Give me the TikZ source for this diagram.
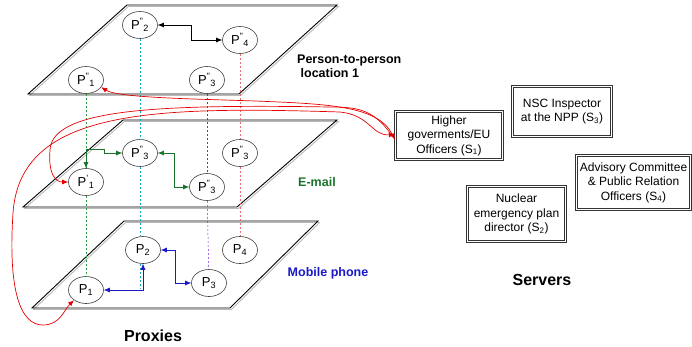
\documentclass[tikz,border=0pt]{standalone}
\usepackage{fontspec}
\setmainfont{Liberation Sans}
\usepackage{xcolor}
\usepackage{tikz}
\usetikzlibrary{shapes.geometric,positioning}
\usetikzlibrary{arrows.meta}
\tikzset{>={Latex[width=5pt,length=6pt]}}
\definecolor{mailgreen}{RGB}{25,115,45}
\definecolor{phoneblue}{RGB}{25,25,200}
\definecolor{colgreen}{RGB}{40,160,60}
\definecolor{colcyan}{RGB}{20,170,200}
\definecolor{colpurple}{RGB}{120,40,220}
\definecolor{colpink}{RGB}{230,110,110}
\tikzstyle{proxy}=[ellipse, draw=black!75, fill=white, line width=0.6pt, minimum width=35pt, minimum height=27pt, inner sep=0pt, font=\fontsize{13}{13}\selectfont]
\tikzstyle{server-box}=[rectangle, align=center, inner sep=1pt, font=\fontsize{12}{14.5}\selectfont]
\tikzstyle{box-frame}=[draw=black!80, line width=0.7pt]
\tikzstyle{layer-label}=[font=\bfseries\fontsize{12.5}{14}\selectfont, inner sep=0pt]
\tikzstyle{group-title}=[font=\bfseries\fontsize{16}{16}\selectfont, inner sep=0pt]
\tikzstyle{column}=[dashed, dash pattern=on 2pt off 2pt, line width=0.5pt]
\tikzstyle{red-link}=[draw=red!90!black, line width=0.7pt, >={Latex[width=5pt,length=6pt]}]
\tikzstyle{plane}=[line width=0.9pt]
\newcommand{\Ppp}[1]{P\textsuperscript{"}\textsubscript{#1}}
\newcommand{\Pp}[1]{P\textsuperscript{'}\textsubscript{#1}}

\begin{document}
\begin{tikzpicture}[x=1pt, y=-1pt, node distance=2.5cm]
	\useasboundingbox (0,0) rectangle (692,346);

	\draw[plane, gray!55, shift={(1.5,1.5)}] (127,5) -- (337,5) -- (239,94) -- (28,94) -- cycle;
	\draw[plane] (127,5) -- (337,5) -- (239,94) -- (28,94) -- cycle;
	\draw[plane, gray!55, shift={(1.5,1.5)}] (123,120) -- (337,120) -- (237,207) -- (23,207) -- cycle;
	\draw[plane] (123,120) -- (337,120) -- (237,207) -- (23,207) -- cycle;
	\draw[plane, gray!55, shift={(1.5,1.5)}] (124,221) -- (318,221) -- (230,308) -- (32,308) -- cycle;
	\draw[plane] (124,221) -- (318,221) -- (230,308) -- (32,308) -- cycle;

	\node[proxy] (top-p2) at (140,25) {\Ppp{2}};
	\node[proxy] (top-p4) at (240,40) {\Ppp{4}};
	\node[proxy] (top-p1) at (86,80) {\Ppp{1}};
	\node[proxy] (top-p3) at (207,80) {\Ppp{3}};

	\node[proxy] (mid-p3c) at (140,153) {\Ppp{3}};
	\node[proxy] (mid-p3r) at (240,153) {\Ppp{3}};
	\node[proxy] (mid-p1) at (86,182) {\Pp{1}};
	\node[proxy] (mid-p3p) at (207,187) {\Ppp{3}};

	\node[proxy] (bot-p2) at (143,250) {P\textsubscript{2}};
	\node[proxy] (bot-p4) at (240,250) {P\textsubscript{4}};
	\node[proxy] (bot-p1) at (86,290) {P\textsubscript{1}};
	\node[proxy] (bot-p3) at (209,283) {P\textsubscript{3}};

	\node[layer-label, anchor=west, align=left] (p2p-label) at (297,66) {Person-to-person\\\ location 1};
	\node[layer-label, text=mailgreen] (mail-label) at (317,182) {E-mail};
	\node[layer-label, text=phoneblue] (phone-label) at (328,273) {Mobile phone};
	\node[group-title] (proxies) at (153,336) {Proxies};

	\node[server-box, minimum width=108pt, minimum height=49pt] (s1) at (449,135.5) {Higher\\goverments/EU\\Officers (S\textsubscript{1})};
	\node[server-box, minimum width=100pt, minimum height=51pt] (s3) at (562,111.5) {NSC Inspector\\at the NPP (S\textsubscript{3})};
	\node[server-box, minimum width=99pt, minimum height=56pt] (s2) at (516.5,214) {Nuclear\\emergency plan\\director (S\textsubscript{2})};
	\node[server-box, minimum width=115pt, minimum height=55pt] (s4) at (633.5,182.5) {Advisory Committee\\\& Public Relation\\Officers (S\textsubscript{4})};
	\foreach \s in {s1,s2,s3,s4} {
		\draw[box-frame] (\s.north west) rectangle (\s.south east);
		\draw[box-frame] ([shift={(2pt,-2pt)}]\s.north west) rectangle ([shift={(-2pt,2pt)}]\s.south east);
	}
	\node[group-title] (servers) at (542,280) {Servers};

	\draw[column, colgreen] (top-p1) -- (mid-p1);
	\draw[column, colgreen] (mid-p1) -- (bot-p1);
	\draw[column, colcyan] (top-p2) -- (mid-p3c);
	\draw[column, colcyan] (mid-p3c) -- (bot-p2.north -| mid-p3c);
	\draw[column, colcyan] (bot-p2.south -| mid-p3c) -- (140,289);
	\draw[column, colpurple] (top-p3) -- (mid-p3p);
	\draw[column, colpurple] (mid-p3p) -- (bot-p3);
	\draw[column, colpink] (top-p4) -- (mid-p3r);
	\draw[column, colpink] (mid-p3r) -- (bot-p4);

	\draw[<->, line width=0.6pt] (top-p2.east) -- ++(33,0) |- (top-p4.west);
	\draw[<->, mailgreen, line width=0.6pt] (mid-p1.north) |- (104,149) |- (mid-p3c.west);
	\draw[<->, mailgreen, line width=0.6pt] (mid-p3c.east) -- ++(16,0) |- (mid-p3p.west);
	\draw[<->, phoneblue, line width=0.6pt] (bot-p1.east) -| (bot-p2.south);
	\draw[<->, phoneblue, line width=0.6pt] (bot-p2.east) -- ++(14,0) |- (bot-p3.west);

	\draw[red-link, <->] (top-p1.-25) .. controls (118,98) and (200,99) .. (255,101)
		.. controls (330,104) and (378,106) .. ([yshift=-4pt]s1.west);
	\draw[red-link, ->] ([yshift=-4pt]s1.west) .. controls (375,110) and (360,107) .. (330,107)
		.. controls (150,104) and (52,110) .. (50,150) .. controls (48,175) and (56,182) .. (mid-p1.west);
	\draw[red-link, <->] (bot-p1.220) .. controls (64,310) and (60,325) .. (43,325)
		.. controls (20,325) and (8,290) .. (13,213) .. controls (20,110) and (150,106) .. (340,112)
		.. controls (370,115) and (372,136) .. ([yshift=1pt]s1.west);
\end{tikzpicture}
\end{document}
